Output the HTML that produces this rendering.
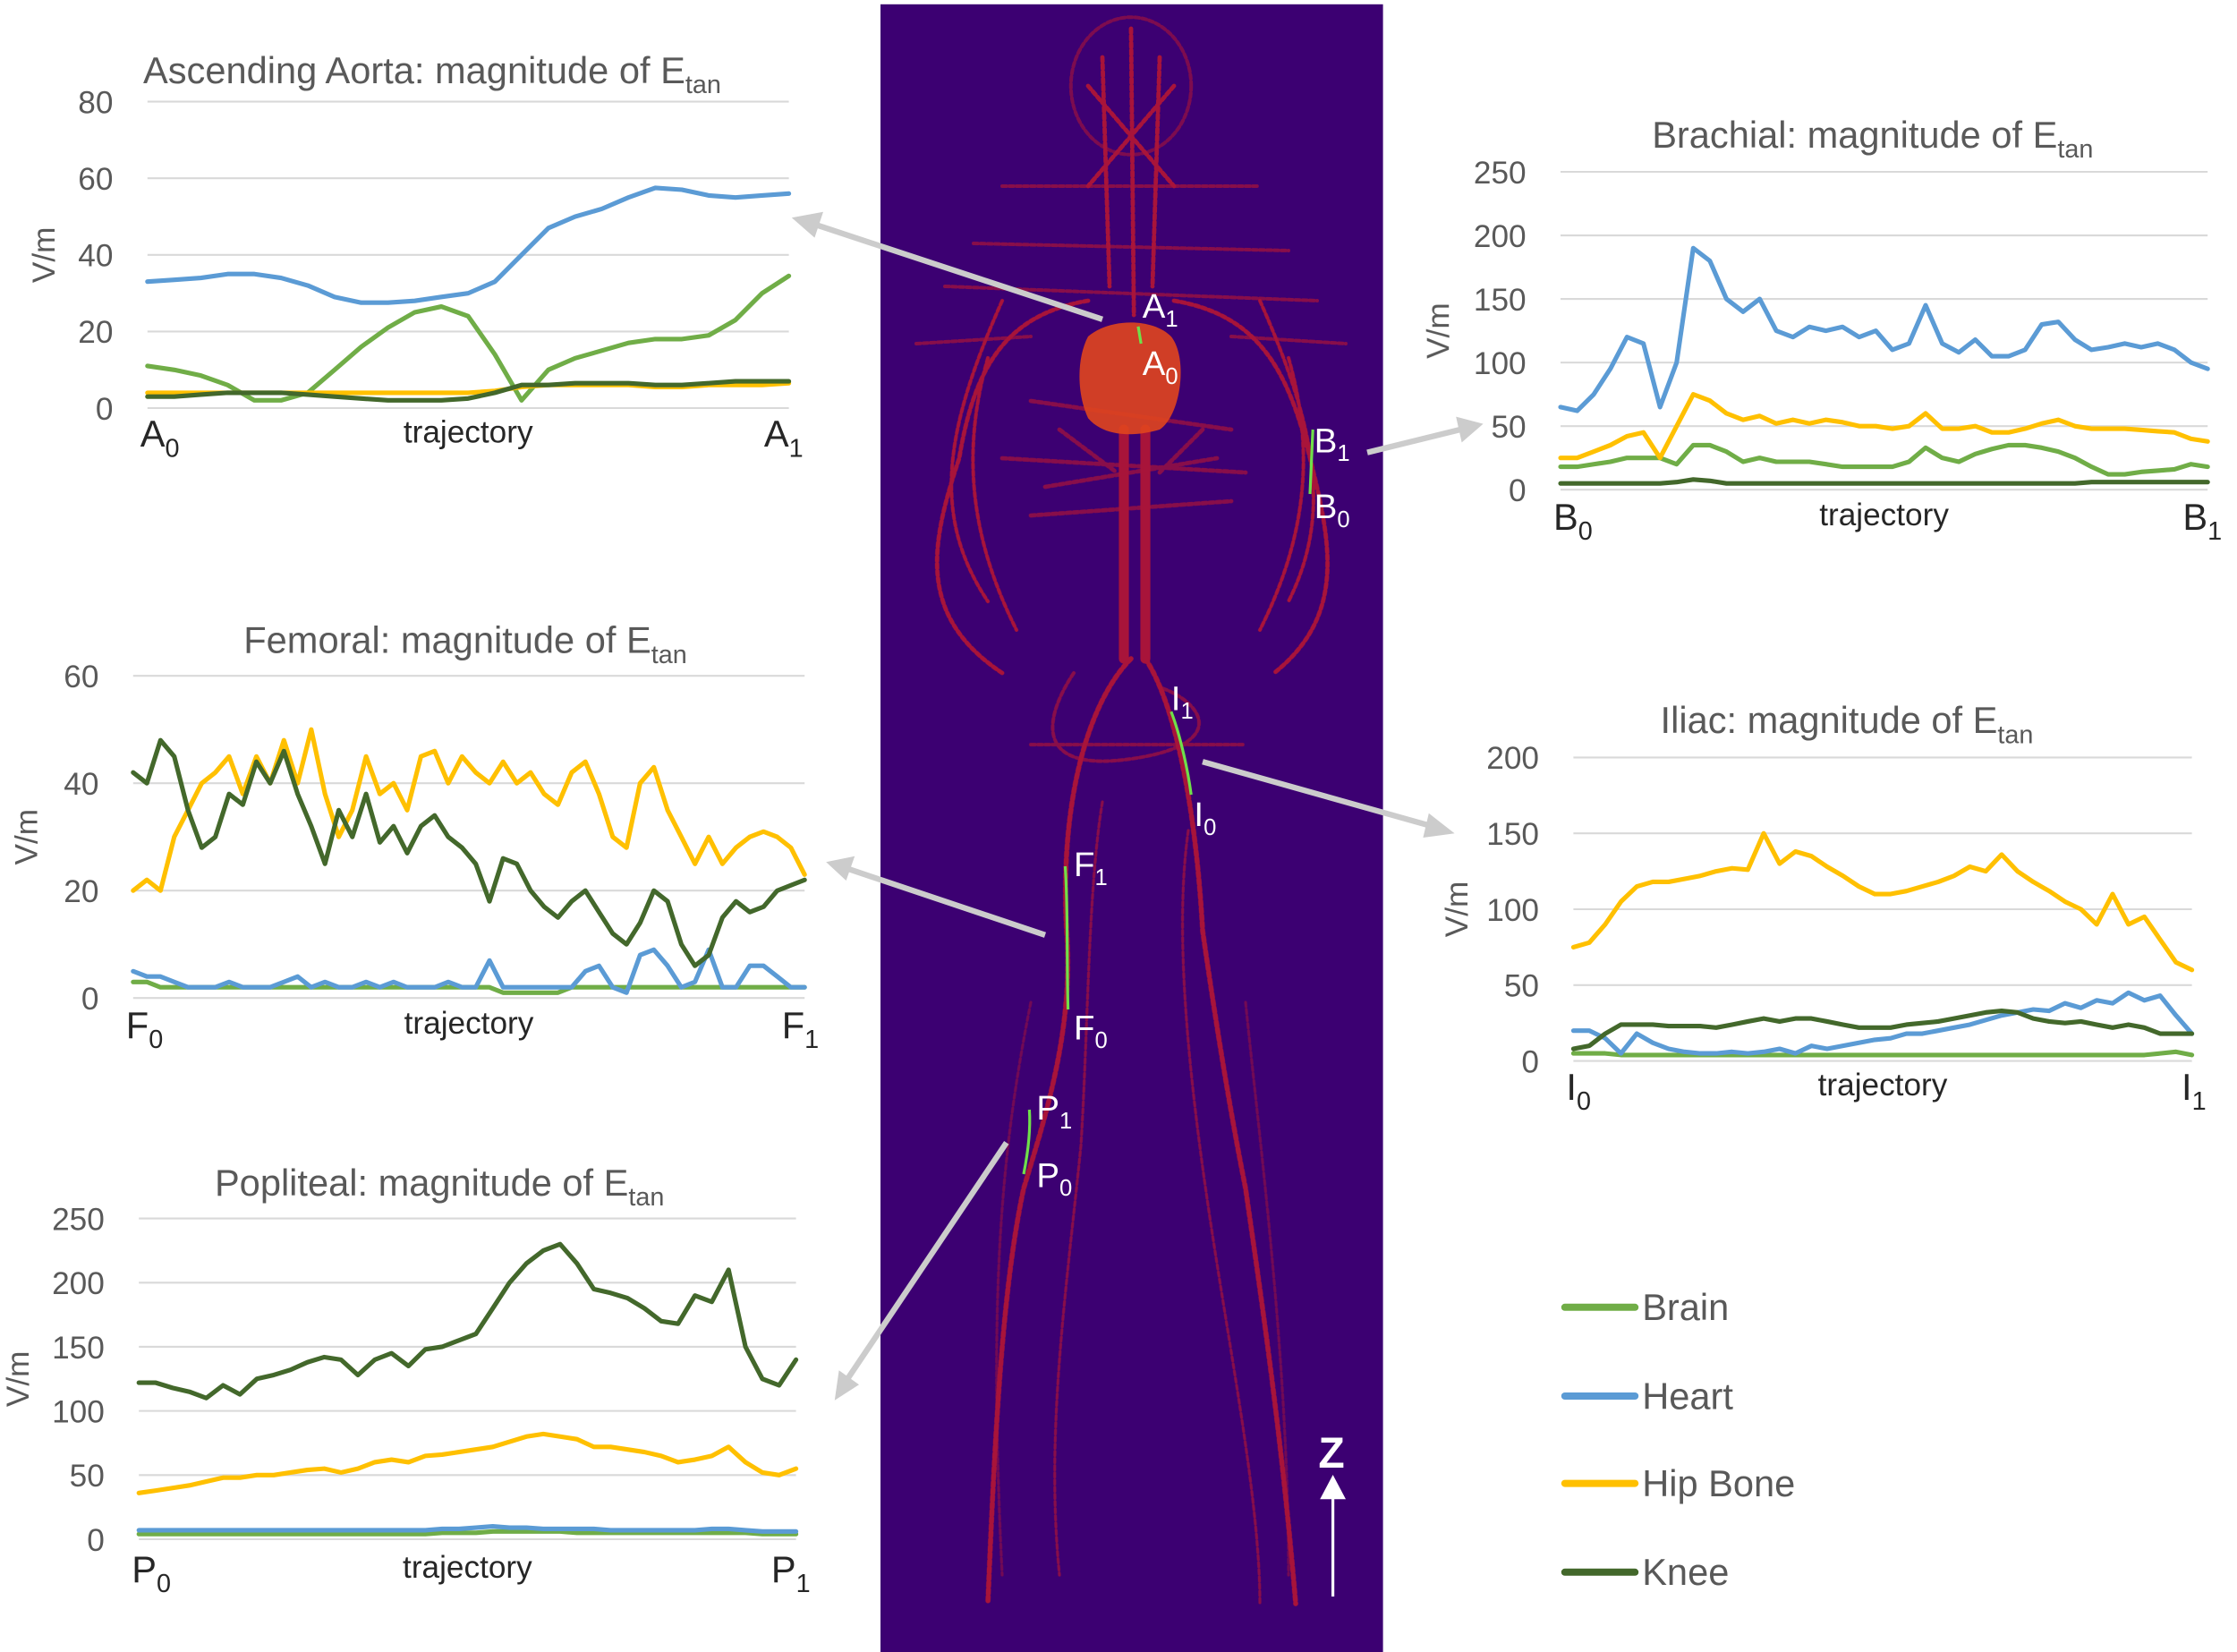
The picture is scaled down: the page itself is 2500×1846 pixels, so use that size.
<!DOCTYPE html>
<html><head><meta charset="utf-8">
<style>
html,body{margin:0;padding:0;background:#fff;}
svg{display:block;}
text{font-family:"Liberation Sans",sans-serif;}
</style></head>
<body>
<svg id="fig" width="2500" height="1846" viewBox="0 0 1562.5 1153.75" xmlns="http://www.w3.org/2000/svg">
<g id="center">
<rect x="615" y="3" width="351" height="1152" fill="#3c0072"/>
<g fill="none" stroke="#c41a2c" stroke-linecap="round" opacity="0.8" stroke-dasharray="3 2">
<ellipse cx="790" cy="60" rx="42" ry="48" stroke-width="2.5" opacity="0.6"/>
<path d="M790 20 L792 220 M770 40 L775 200 M810 40 L805 200 M760 60 L820 130 M820 60 L760 130" stroke-width="3"/>
<path d="M700 130 L880 130 M680 170 L900 175 M660 200 L920 210 M640 240 L720 235 M860 235 L940 240" stroke-width="2.5" opacity="0.7"/>
<path d="M785 300 L785 460 M800 300 L800 460" stroke-width="7" stroke-dasharray="none"/>
<path d="M720 280 L860 300 M700 320 L870 330 M720 360 L860 350 M740 300 L780 330 M840 300 L810 330 M730 340 L850 320" stroke-width="3" opacity="0.7"/>
<path d="M760 210 C700 220 680 260 670 320 C650 380 640 430 700 470 M820 210 C880 220 900 260 915 320 C930 380 940 430 890 470" stroke-width="3"/>
<path d="M700 210 C660 300 650 360 690 420 M880 210 C920 300 930 360 900 420 M690 250 C670 320 680 380 710 440 M900 250 C920 320 910 380 880 440" stroke-width="2.5"/>
<path d="M790 460 C760 490 740 560 745 650 C750 720 730 780 715 830 C700 900 695 1000 690 1120" stroke-width="3.5"/>
<path d="M800 460 C820 490 835 560 840 650 C850 720 860 780 870 830 C880 900 895 1000 905 1120" stroke-width="3.5"/>
<path d="M770 560 C760 620 760 720 755 800 C745 900 730 1000 740 1100 M830 580 C820 650 830 750 845 850 C860 950 880 1050 880 1120" stroke-width="2" opacity="0.7"/>
<path d="M750 470 C730 500 720 540 790 530 C860 520 840 490 810 480 M720 520 L870 520" stroke-width="2.5" opacity="0.7"/>
<path d="M720 700 C700 800 690 900 700 1100 M870 700 C880 800 900 950 900 1100" stroke-width="2" opacity="0.5"/>
</g>
<path d="M760 235 C775 222 805 222 818 235 C830 250 825 290 810 300 C790 306 770 304 760 292 C752 275 752 250 760 235 Z" fill="#e0451e" opacity="0.9"/>
<g fill="none" stroke="#6fe04a" stroke-width="2">
<path d="M795 228 L797 240"/><path d="M917 300 L915 345"/><path d="M818 497 C825 515 830 540 832 555"/><path d="M744 605 C746 630 745 670 746 705"/><path d="M719 775 C720 790 718 805 715 820"/>
</g>
<g fill="#fff" font-size="24">
<text x="798" y="222">A<tspan font-size="16" dy="6">1</tspan></text>
<text x="798" y="262">A<tspan font-size="16" dy="6">0</tspan></text>
<text x="918" y="316">B<tspan font-size="16" dy="6">1</tspan></text>
<text x="918" y="362">B<tspan font-size="16" dy="6">0</tspan></text>
<text x="818" y="496">I<tspan font-size="16" dy="6">1</tspan></text>
<text x="834" y="577">I<tspan font-size="16" dy="6">0</tspan></text>
<text x="750" y="612">F<tspan font-size="16" dy="6">1</tspan></text>
<text x="750" y="726">F<tspan font-size="16" dy="6">0</tspan></text>
<text x="724" y="782">P<tspan font-size="16" dy="6">1</tspan></text>
<text x="724" y="829">P<tspan font-size="16" dy="6">0</tspan></text>
</g>
<g>
<text x="930" y="1025" fill="#fff" font-size="30" text-anchor="middle" font-weight="bold">Z</text>
<line x1="931" y1="1115" x2="931" y2="1045" stroke="#fff" stroke-width="2"/>
<polygon points="931,1030 922,1047 940,1047" fill="#fff"/>
</g>
</g>
<g stroke="#cccccc" stroke-width="4">
<line x1="770" y1="223" x2="570" y2="157"/><polygon points="553,152 575,148 569,166" fill="#cccccc" stroke="none"/>
<line x1="955" y1="316" x2="1020" y2="300"/><polygon points="1036,296 1017,291 1021,309" fill="#cccccc" stroke="none"/>
<line x1="840" y1="532" x2="1000" y2="577"/><polygon points="1016,582 998,568 994,585" fill="#cccccc" stroke="none"/>
<line x1="730" y1="653" x2="593" y2="607"/><polygon points="577,602 597,598 591,615" fill="#cccccc" stroke="none"/>
<line x1="703" y1="798" x2="592" y2="963"/><polygon points="583,978 586,957 600,967" fill="#cccccc" stroke="none"/>
</g>
<g id="charts"></g>
<g font-size="26" fill="#595959">
<g><line x1="1093" y1="913" x2="1142" y2="913" stroke="#70ad47" stroke-width="5" stroke-linecap="round"/><text x="1147" y="922">Brain</text></g>
<g><line x1="1093" y1="975" x2="1142" y2="975" stroke="#5b9bd5" stroke-width="5" stroke-linecap="round"/><text x="1147" y="984">Heart</text></g>
<g><line x1="1093" y1="1036" x2="1142" y2="1036" stroke="#ffc000" stroke-width="5" stroke-linecap="round"/><text x="1147" y="1045">Hip Bone</text></g>
<g><line x1="1093" y1="1098" x2="1142" y2="1098" stroke="#43682b" stroke-width="5" stroke-linecap="round"/><text x="1147" y="1107">Knee</text></g>
</g>
</svg>
<script>
const seriesNames = ["Brain","Heart","Hip Bone","Knee"];
const seriesColors = ["#70ad47","#5b9bd5","#ffc000","#43682b"];

const aortaTicks = [0,20,40,60,80];
const aortaBrain = [11,10,8.5,6,2,2,4,10,16,21,25,26.5,24,14,2,10,13,15,17,18,18,19,23,30,34.5];
const aortaHeart = [33,33.5,34,35,35,34,32,29,27.5,27.5,28,29,30,33,40,47,50,52,55,57.5,57,55.5,55,55.5,56];
const aortaHip = [4,4,4,4,4,4,4,4,4,4,4,4,4,4.5,5.5,6,6,6,6,5.5,5.5,6,6,6,6.5];
const aortaKnee = [3,3,3.5,4,4,4,3.5,3,2.5,2,2,2,2.5,4,6,6,6.5,6.5,6.5,6,6,6.5,7,7,7];

const brachTicks = [0,50,100,150,200,250];
const brachBrain = [18,18,20,22,25,25,25,20,35,35,30,22,25,22,22,22,20,18,18,18,18,22,33,25,22,28,32,35,35,33,30,25,18,12,12,14,15,16,20,18];
const brachHeart = [65,62,75,95,120,115,65,100,190,180,150,140,150,125,120,128,125,128,120,125,110,115,145,115,108,118,105,105,110,130,132,118,110,112,115,112,115,110,100,95];
const brachHip = [25,25,30,35,42,45,25,50,75,70,60,55,58,52,55,52,55,53,50,50,48,50,60,48,48,50,45,45,48,52,55,50,48,48,48,47,46,45,40,38];
const brachKnee = [5,5,5,5,5,5,5,6,8,7,5,5,5,5,5,5,5,5,5,5,5,5,5,5,5,5,5,5,5,5,5,5,6,6,6,6,6,6,6,6];

const femTicks = [0,20,40,60];
const femBrain = [3,3,2,2,2,2,2,2,2,2,2,2,2,2,2,2,2,2,2,2,2,2,2,2,2,2,2,1,1,1,1,1,2,2,2,2,2,2,2,2,2,2,2,2,2,2,2,2,2,2];
const femHeart = [5,4,4,3,2,2,2,3,2,2,2,3,4,2,3,2,2,3,2,3,2,2,2,3,2,2,7,2,2,2,2,2,2,5,6,2,1,8,9,6,2,3,9,2,2,6,6,4,2,2];
const femHip = [20,22,20,30,35,40,42,45,38,45,40,48,40,50,38,30,35,45,38,40,35,45,46,40,45,42,40,44,40,42,38,36,42,44,38,30,28,40,43,35,30,25,30,25,28,30,31,30,28,23];
const femKnee = [42,40,48,45,35,28,30,38,36,44,40,46,38,32,25,35,30,38,29,32,27,32,34,30,28,25,18,26,25,20,17,15,18,20,16,12,10,14,20,18,10,6,8,15,18,16,17,20,21,22];

const iliacTicks = [0,50,100,150,200];
const iliacBrain = [5,5,5,4,4,4,4,4,4,4,4,4,4,4,4,4,4,4,4,4,4,4,4,4,4,4,4,4,4,4,4,4,4,4,4,4,4,5,6,4];
const iliacHeart = [20,20,15,5,18,12,8,6,5,5,6,5,6,8,5,10,8,10,12,14,15,18,18,20,22,24,27,30,32,34,33,38,35,40,38,45,40,43,30,18];
const iliacHip = [75,78,90,105,115,118,118,120,122,125,127,126,150,130,138,135,128,122,115,110,110,112,115,118,122,128,125,136,125,118,112,105,100,90,110,90,95,80,65,60];
const iliacKnee = [8,10,18,24,24,24,23,23,23,22,24,26,28,26,28,28,26,24,22,22,22,24,25,26,28,30,32,33,32,28,26,25,26,24,22,24,22,18,18,18];

const poplTicks = [0,50,100,150,200,250];
const poplBrain = [4,4,4,4,4,4,4,4,4,4,4,4,4,4,4,4,4,4,5,5,5,6,6,6,6,6,5,5,5,5,5,5,5,5,5,5,5,4,4,4];
const poplHeart = [7,7,7,7,7,7,7,7,7,7,7,7,7,7,7,7,7,7,8,8,9,10,9,9,8,8,8,8,7,7,7,7,7,7,8,8,7,6,6,6];
const poplHip = [36,38,40,42,45,48,48,50,50,52,54,55,52,55,60,62,60,65,66,68,70,72,76,80,82,80,78,72,72,70,68,65,60,62,65,72,60,52,50,55];
const poplKnee = [122,122,118,115,110,120,113,125,128,132,138,142,140,128,140,145,135,148,150,155,160,180,200,215,225,230,215,195,192,188,180,170,168,190,185,210,150,125,120,140];

const NS = "http://www.w3.org/2000/svg";
const root = document.getElementById("charts");
function mk(tag, attrs, parent){const e=document.createElementNS(NS,tag);for(const k in attrs)e.setAttribute(k,attrs[k]);parent.appendChild(e);return e;}

function chart(cfg){
  const g = mk("g",{},root);
  
  
  const max = cfg.ticks[cfg.ticks.length-1];
  const ys = v => cfg.yb - (v/max)*(cfg.yb-cfg.yt);
  const xs = (i,n) => cfg.x0 + i*(cfg.x1-cfg.x0)/(n-1);
  const t = mk("text",{x:cfg.tx,y:cfg.ty,"font-size":26,fill:"#595959","text-anchor":cfg.ta},g);
  
  
  t.textContent = cfg.title + ": magnitude of E";
  const sub = mk("tspan",{"font-size":18,dy:7},t); sub.textContent="tan";
  cfg.ticks.forEach(v=>{
    const l = mk("line",{x1:cfg.x0,x2:cfg.x1,y1:ys(v),y2:ys(v),stroke:"#d9d9d9","stroke-width":1.3},g);
    
    
    const lb = mk("text",{x:cfg.x0-24,y:ys(v)+8,"font-size":22,fill:"#595959","text-anchor":"end"},g);
    
    
    lb.textContent = v;
  });
  const ymid = (cfg.yb+cfg.yt)/2;
  const yl = mk("text",{x:cfg.vx,y:ymid,"font-size":22,fill:"#595959","text-anchor":"middle",transform:`rotate(-90 ${cfg.vx} ${ymid})`},g);
  
  
  yl.textContent = "V/m";
  const xl = mk("text",{x:cfg.x0-5,y:cfg.lb,"font-size":26,fill:"#262626"},g);
  
  
  xl.textContent = cfg.L; const s0=mk("tspan",{"font-size":18,dy:7},xl); s0.textContent="0";
  const xr = mk("text",{x:cfg.x1+10,y:cfg.lb,"font-size":26,fill:"#262626","text-anchor":"end"},g);
  
  
  xr.textContent = cfg.L; const s1=mk("tspan",{"font-size":18,dy:7},xr); s1.textContent="1";
  const xt = mk("text",{x:(cfg.x0+cfg.x1)/2,y:cfg.lb-3,"font-size":22,fill:"#262626","text-anchor":"middle"},g);
  
  
  xt.textContent = "trajectory";
  cfg.series.forEach((arr,si)=>{
    const pts = arr.map((v,i)=>xs(i,arr.length).toFixed(1)+","+ys(v).toFixed(1)).join(" ");
    const p = mk("polyline",{points:pts,fill:"none",stroke:seriesColors[si],"stroke-width":3.2,"stroke-linejoin":"round","stroke-linecap":"round"},g);
    
    
  });
}

chart({id:"aorta",title:"Ascending Aorta",L:"A",x0:103,x1:551,yb:285,yt:71,ticks:aortaTicks,tx:100,ty:58,ta:"start",vx:38,lb:312,series:[aortaBrain,aortaHeart,aortaHip,aortaKnee]});
chart({id:"brachial",title:"Brachial",L:"B",x0:1090,x1:1542,yb:342,yt:120,ticks:brachTicks,tx:1308,ty:103,ta:"middle",vx:1012,lb:370,series:[brachBrain,brachHeart,brachHip,brachKnee]});
chart({id:"femoral",title:"Femoral",L:"F",x0:93,x1:562,yb:697,yt:472,ticks:femTicks,tx:325,ty:456,ta:"middle",vx:26,lb:725,series:[femBrain,femHeart,femHip,femKnee]});
chart({id:"iliac",title:"Iliac",L:"I",x0:1099,x1:1531,yb:741,yt:529,ticks:iliacTicks,tx:1290,ty:512,ta:"middle",vx:1025,lb:768,series:[iliacBrain,iliacHeart,iliacHip,iliacKnee]});
chart({id:"popliteal",title:"Popliteal",L:"P",x0:97,x1:556,yb:1075,yt:851,ticks:poplTicks,tx:307,ty:835,ta:"middle",vx:20,lb:1105,series:[poplBrain,poplHeart,poplHip,poplKnee]});
</script>
</body></html>
